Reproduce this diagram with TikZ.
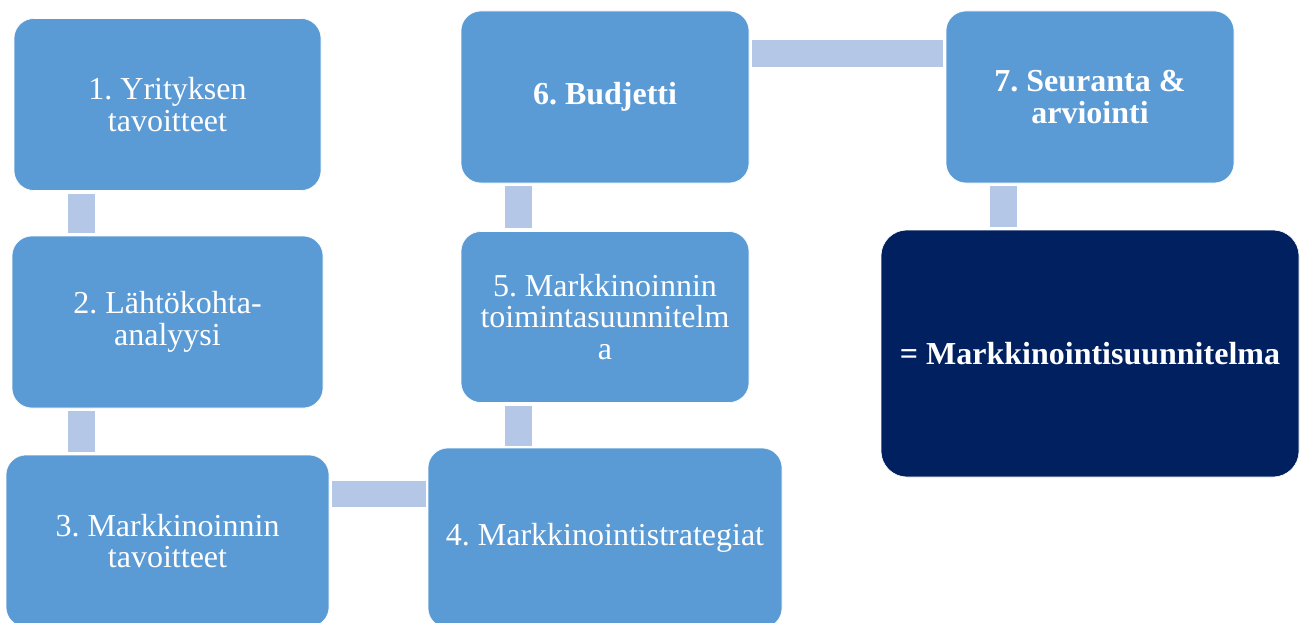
\documentclass[tikz,border=0pt]{standalone}
\usepackage{fontspec}
\setmainfont{Liberation Serif}
\usetikzlibrary{calc}
\definecolor{boxblue}{HTML}{5B9BD5}
\definecolor{connblue}{HTML}{B4C7E7}
\definecolor{navy}{HTML}{002060}
\frenchspacing
\begin{document}
\begin{tikzpicture}[x=1pt,y=-1pt,
  stepbox/.style={rectangle, rounded corners=20pt, fill=boxblue, draw=white, line width=0.6pt,
    text=white, align=center, inner sep=0pt, font=\fontsize{32}{31.5}\selectfont\frenchspacing},
  boldbox/.style={stepbox, font=\fontsize{32}{31.5}\selectfont\bfseries\frenchspacing},
  finalbox/.style={boldbox, fill=navy, rounded corners=26pt},
  conn/.style={draw=connblue, line width=27pt, line cap=butt}]
\useasboundingbox (0,0) rectangle (1301,623);
\clip (0,0) rectangle (1301,623);
\fill[white] (0,0) rectangle (1301,623);
\node[stepbox, minimum width=307pt, minimum height=172pt] (b1) at (167.5,104.5) {1. Yrityksen\\tavoitteet};
\node[stepbox, minimum width=311pt, minimum height=172pt] (b2) at (167.5,322) {2. Lähtökohta-\\analyysi};
\node[stepbox, minimum width=323pt, minimum height=172pt] (b3) at (167.5,541) {3. Markkinoinnin\\tavoitteet};
\node[stepbox, minimum width=354pt, minimum height=180pt] (b4) at (605,538) {4. Markkinointistrategiat};
\node[stepbox, minimum width=288pt, minimum height=171pt] (b5) at (605,317) {5. Markkinoinnin\\toimintasuunnitelm\\a};
\node[boldbox, minimum width=288pt, minimum height=172pt] (b6) at (605,97) {\raisebox{-3pt}{6. Budjetti}};
\node[boldbox, minimum width=288pt, minimum height=172pt] (b7) at (1090,97) {7. Seuranta \&\\arviointi};
\node[finalbox, minimum width=418pt, minimum height=247pt] (f) at (1090,353.5) {= Markkinointisuunnitelma};
\draw[conn] ($(b1.south west)+(67.5,3)$) -- ($(b2.north west)+(69.5,-3)$);
\draw[conn] ($(b2.south west)+(69.5,3)$) -- ($(b3.north west)+(75.5,-3)$);
\draw[conn, line width=26pt] ($(b3.north east)+(3,39)$) -- ($(b4.north west)+(-2,46)$);
\draw[conn] ($(b4.north west)+(90.5,-2)$) -- ($(b5.south west)+(57.5,3)$);
\draw[conn] ($(b5.north west)+(57.5,-3)$) -- ($(b6.south west)+(57.5,3)$);
\draw[conn] ($(b6.north east)+(3,42.5)$) -- ($(b7.north west)+(-3,42.5)$);
\draw[conn] ($(b7.south west)+(57.5,3)$) -- ($(f.north west)+(122.5,-3)$);
\end{tikzpicture}
\end{document}
